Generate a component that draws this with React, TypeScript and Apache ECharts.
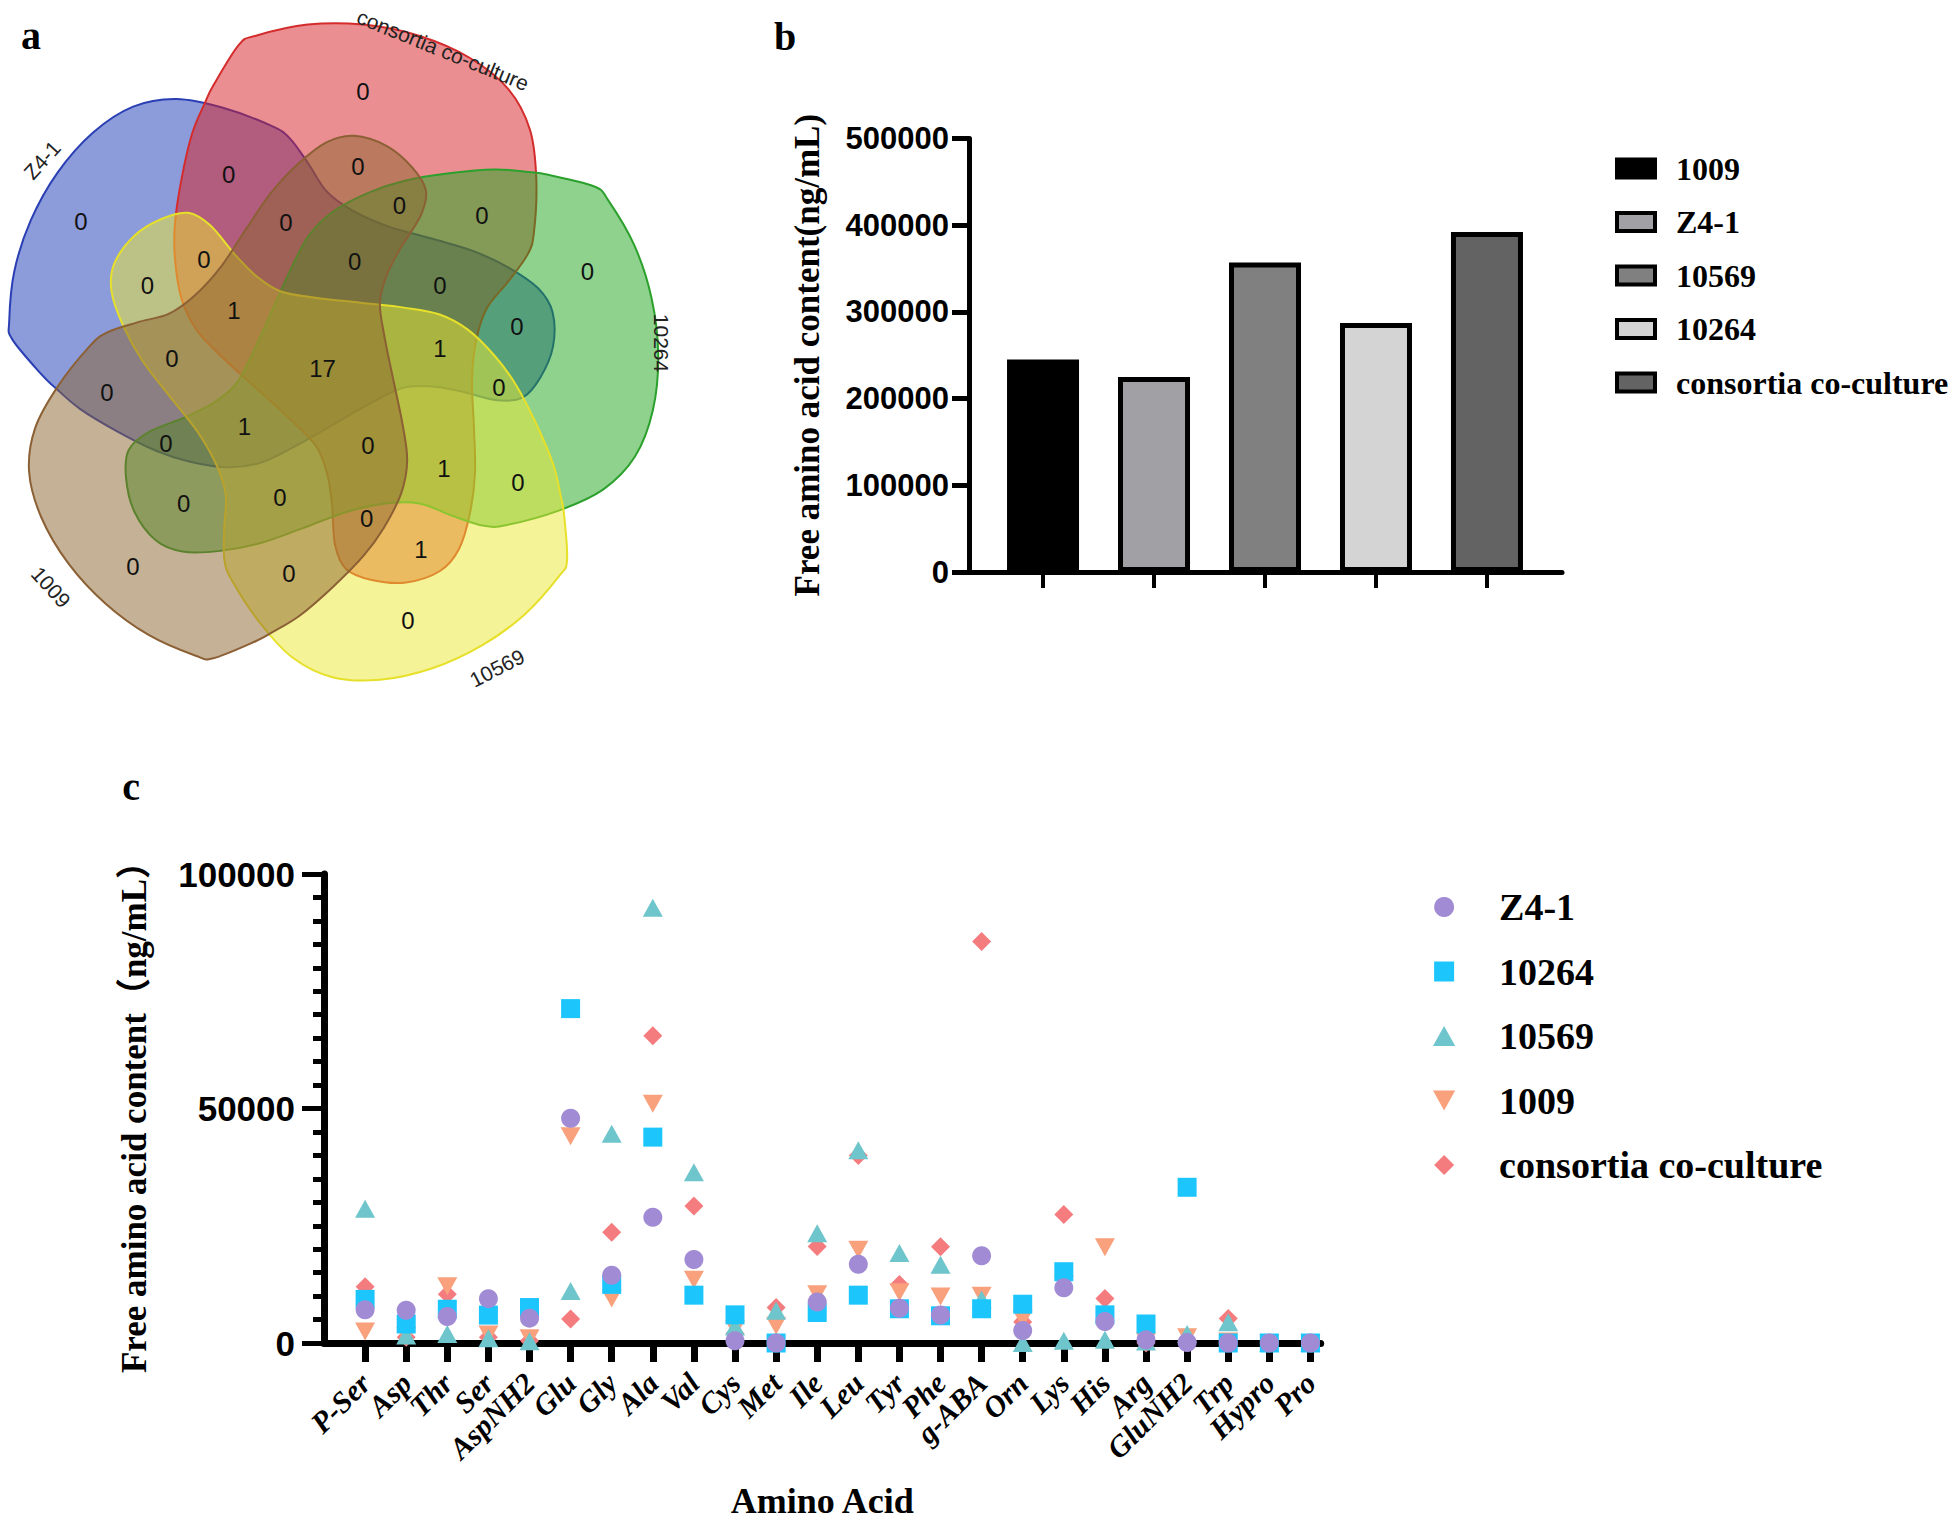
import React, { useEffect, useRef } from 'react';
import * as echarts from 'echarts';

// ---------------- data ----------------
// panel b
const BAR_GROUPS = ['1009', 'Z4-1', '10569', '10264', 'consortia co-culture'];
const BAR_TOTALS = [245000, 225000, 357000, 287000, 392000];

// panel c
const AMINO_ACIDS = ['P-Ser', 'Asp', 'Thr', 'Ser', 'AspNH2', 'Glu', 'Gly', 'Ala', 'Val', 'Cys', 'Met', 'Ile', 'Leu', 'Tyr', 'Phe', 'g-ABA', 'Orn', 'Lys', 'His', 'Arg', 'GluNH2', 'Trp', 'Hypro', 'Pro'];
const SCATTER_GROUPS = ['Z4-1', '10264', '10569', '1009', 'consortia co-culture'];
const VAL_Z41 = [7070, 7000, 5660, 9460, 5300, 47900, 14450, 26800, 17800, 500, 0, 8750, 16800, 7400, 5950, 18600, 2640, 11800, 4600, 670, 100, 0, 0, 0];
const VAL_10264 = [9300, 4050, 7200, 5950, 7560, 71300, 12500, 43900, 10200, 6000, 0, 6500, 10200, 7300, 5800, 7300, 8270, 15200, 6000, 4050, 33200, 0, 0, 0];
const VAL_10569 = [28650, 1600, 1900, 1000, 350, 11100, 44600, 92800, 36400, 3500, 6850, 23400, 41100, 19200, 16700, 9300, 0, 500, 700, 300, 1900, 4400, 0, 0];
const VAL_1009 = [2430, 1500, 12100, 1800, 1000, 44100, 9500, 51000, 13500, 3000, 3700, 10400, 19900, 10800, 9900, 10100, 5100, 12500, 20400, 300, 1200, 300, 0, 0];
const VAL_CONSORTIA = [12000, 1200, 10400, 1200, 500, 5100, 23600, 65500, 29200, 2000, 7560, 20600, 40000, 12500, 20500, 85600, 4500, 27400, 9500, 0, 500, 5200, 0, 0];
const SCATTER_VALUES = [VAL_Z41, VAL_10264, VAL_10569, VAL_1009, VAL_CONSORTIA];

// panel a (Venn)
const VENN_SETS = ['Z4-1', 'consortia co-culture', '10264', '10569', '1009'];
const VENN_COUNTS = [0, 0, 0, 0, 0, 0, 0, 0, 0, 0, 0, 0, 1, 0, 1, 0, 17, 0, 0, 1, 0, 0, 1, 0, 0, 0, 0, 1, 0, 0, 0];

// ---------------- layout / style ----------------
const SERIF = "'Liberation Serif', 'Times New Roman', serif";
const SERIF_CJK = "'Liberation Serif', 'Noto Sans CJK SC', serif";
const SANS = "'Liberation Sans', Arial, sans-serif";

const BAR_FILLS = ['#000000', '#a1a1a5', '#808080', '#d4d4d4', '#636363'];
const SCATTER_COLORS = ['#a18bd4', '#1cc6fd', '#6ec5cb', '#f9a07c', '#f47c7f'];
const SCATTER_SYMBOLS = [
  'circle',
  'path://M0,0H10V10H0Z',
  'path://M10,0L20,18L0,18Z',
  'path://M0,0L20,0L10,18Z',
  'path://M10,0L20,10L10,20L0,10Z',
];
const SCATTER_SIZES: any[] = [19, 19, [20, 18], [20, 18], 19];
const SCATTER_Z = [6, 5, 4, 3, 2];

// Venn
const VENN_CENTER = [319, 360];
const SHAPE_OUTLINE = [
  [213.7, 84.8], [239, 44.6], [256, 35.7], [307.7, 24.6], [363, 24.6], [418.8, 35.7], [470, 58],
  [508.5, 89.3], [529.9, 129.5], [536.3, 178.6], [534, 232], [527.7, 254.4], [508.5, 281.2],
  [487, 308], [476.4, 339.3], [472, 379.4], [474, 428.5], [475, 473], [470, 513], [459, 549],
  [440, 571], [406, 582.5], [371.7, 580], [346, 569], [335, 544.6], [332, 504], [327, 473],
  [316, 446], [290.6, 419.6], [256, 388], [222, 357], [196.6, 330], [181.6, 299], [175, 259],
  [175, 223], [181.6, 178.6], [192, 134], [205, 102.7],
];
// per set: rotation (deg, counter-clockwise), scale, dx, dy
const VENN_XFORM = [
  [72, 0.96, 5, 0],
  [0, 1, 0, 0],
  [-72, 1, 0, 0],
  [-144, 0.96, 8, 0],
  [144, 0.96, 10, 8],
];
const VENN_FILL = ['rgba(25,55,180,0.5)', 'rgba(215,30,35,0.5)', 'rgba(30,165,30,0.5)', 'rgba(235,232,50,0.5)', 'rgba(140,100,45,0.5)'];
const VENN_STROKE = ['#2b3fb5', '#d42c2c', '#2ca02c', '#e6e02a', '#8b6035'];
const VENN_LABEL_POS = [
  [363, 91.5], [228.6, 174], [358, 166], [81, 221], [286, 222], [399.5, 205], [482, 215.6],
  [587.5, 271.4], [203.8, 259], [354.7, 261], [147.4, 285.7], [440, 285.7], [234, 310],
  [517, 326], [440, 348], [172, 358.5], [322.6, 368.3], [106.8, 392], [499, 387.5],
  [244.4, 426], [165.8, 443], [368, 445], [444, 468.7], [518, 482], [183.7, 503.5],
  [280, 497], [366.6, 518], [421, 549], [133, 566], [289, 573.6], [408, 620.5],
];
const VENN_SET_LABEL_POS = [
  [42, 160, 48],
  [443, 50, -22],
  [661, 343, -90],
  [497, 668, 27],
  [51, 587, -48],
];

function smoothClosedPath(pts: number[][]) {
  const n = pts.length;
  const f = (v: number) => v.toFixed(2);
  let d = `M${f(pts[0][0])},${f(pts[0][1])}`;
  for (let i = 0; i < n; i++) {
    const p0 = pts[(i - 1 + n) % n];
    const p1 = pts[i];
    const p2 = pts[(i + 1) % n];
    const p3 = pts[(i + 2) % n];
    const c1 = [p1[0] + (p2[0] - p0[0]) / 6, p1[1] + (p2[1] - p0[1]) / 6];
    const c2 = [p2[0] - (p3[0] - p1[0]) / 6, p2[1] - (p3[1] - p1[1]) / 6];
    d += `C${f(c1[0])},${f(c1[1])},${f(c2[0])},${f(c2[1])},${f(p2[0])},${f(p2[1])}`;
  }
  return d + 'Z';
}

function buildOption() {
  const local = SHAPE_OUTLINE.map(([x, y]) => [x - VENN_CENTER[0], y - VENN_CENTER[1]]);
  echarts.graphic.registerShape('vennBlob', echarts.graphic.extendPath(smoothClosedPath(local), {}) as any);

  const graphics: any[] = [];
  VENN_SETS.forEach((_, i) => {
    const [rot, s, dx, dy] = VENN_XFORM[i];
    graphics.push({
      type: 'vennBlob',
      x: VENN_CENTER[0] + dx,
      y: VENN_CENTER[1] + dy,
      scaleX: s,
      scaleY: s,
      rotation: (rot * Math.PI) / 180,
      z: 1 + i,
      style: { fill: VENN_FILL[i], stroke: VENN_STROKE[i], lineWidth: 2 / s },
    });
  });
  VENN_COUNTS.forEach((c, i) => {
    graphics.push({
      type: 'text',
      x: VENN_LABEL_POS[i][0],
      y: VENN_LABEL_POS[i][1],
      z: 20,
      style: { text: String(c), fill: '#111', font: `24px ${SANS}`, align: 'center', verticalAlign: 'middle' },
    });
  });
  VENN_SETS.forEach((s, i) => {
    const [x, y, r] = VENN_SET_LABEL_POS[i];
    graphics.push({
      type: 'text',
      x,
      y,
      rotation: (r * Math.PI) / 180,
      z: 20,
      style: { text: s, fill: '#222', font: `21px ${SANS}`, align: 'center', verticalAlign: 'middle' },
    });
  });
  [['a', 31, 35], ['b', 785, 36], ['c', 131, 786]].forEach(([t, x, y]) => {
    graphics.push({
      type: 'text',
      x,
      y,
      z: 20,
      style: { text: t, fill: '#000', font: `bold 40px ${SERIF}`, align: 'center', verticalAlign: 'middle' },
    });
  });

  const barSeries = BAR_GROUPS.map((g, i) => ({
    name: 'b|' + g,
    type: 'bar',
    xAxisIndex: 0,
    yAxisIndex: 0,
    barWidth: 72,
    barGap: '-100%',
    data: [[i, BAR_TOTALS[i]]],
    itemStyle: { color: BAR_FILLS[i], borderColor: '#000', borderWidth: 5 },
  }));

  const scatterSeries = SCATTER_GROUPS.map((g, k) => ({
    name: 'c|' + g,
    type: 'scatter',
    xAxisIndex: 1,
    yAxisIndex: 1,
    symbol: SCATTER_SYMBOLS[k],
    symbolSize: SCATTER_SIZES[k],
    z: SCATTER_Z[k],
    itemStyle: { color: SCATTER_COLORS[k], opacity: 1 },
    data: SCATTER_VALUES[k].map((v, i) => [i, v]),
  }));

  const idx = AMINO_ACIDS.map((_, i) => i);
  const X_MIN = -1;
  const X_MAX = 23.25;
  // empty labels at both ends keep every amino-acid label visible
  const labelValues = [X_MIN, ...idx, X_MAX];
  const plain = (v: number) => String(v);

  return {
    animation: false,
    backgroundColor: '#ffffff',
    grid: [
      { left: 969, top: 138.4, width: 593, height: 433.6 },
      { left: 324, top: 874, width: 996.7, height: 473.5 },
    ],
    xAxis: [
      {
        gridIndex: 0,
        type: 'value',
        min: -0.667,
        max: 4.676,
        axisLine: { show: true, onZero: false, lineStyle: { color: '#000', width: 5 } },
        axisTick: { show: true, customValues: BAR_GROUPS.map((_, i) => i), length: 16, lineStyle: { color: '#000', width: 4 } },
        axisLabel: { show: false },
        splitLine: { show: false },
      },
      {
        gridIndex: 1,
        type: 'value',
        min: X_MIN,
        max: X_MAX,
        axisLine: { show: true, onZero: false, lineStyle: { color: '#000', width: 7 } },
        axisTick: { show: true, customValues: idx, length: 19, lineStyle: { color: '#000', width: 7 } },
        axisLabel: {
          customValues: labelValues,
          hideOverlap: false,
          formatter: (v: number) => (Number.isInteger(v) && v >= 0 ? AMINO_ACIDS[v] ?? '' : ''),
          rotate: 45,
          margin: 35,
          fontFamily: SERIF,
          fontWeight: 'bold',
          fontStyle: 'italic',
          fontSize: 30,
          color: '#000',
        },
        splitLine: { show: false },
        name: 'Amino Acid',
        nameLocation: 'middle',
        nameGap: 140,
        nameTextStyle: { fontFamily: SERIF, fontWeight: 'bold', fontSize: 36, color: '#000' },
      },
    ],
    yAxis: [
      {
        gridIndex: 0,
        type: 'value',
        min: 0,
        max: 500000,
        interval: 100000,
        axisLine: { show: true, onZero: false, lineStyle: { color: '#000', width: 5 } },
        axisTick: { show: true, length: 17, lineStyle: { color: '#000', width: 5 } },
        axisLabel: { margin: 20, formatter: plain, fontFamily: SANS, fontWeight: 'bold', fontSize: 31, color: '#000' },
        splitLine: { show: false },
        name: 'Free amino acid content(ng/mL)',
        nameLocation: 'middle',
        nameGap: 144,
        nameTextStyle: { fontFamily: SERIF, fontWeight: 'bold', fontSize: 35, color: '#000' },
      },
      {
        gridIndex: 1,
        type: 'value',
        min: 0,
        max: 100000,
        interval: 50000,
        axisLine: { show: true, onZero: false, lineStyle: { color: '#000', width: 7 } },
        axisTick: { show: true, length: 22, lineStyle: { color: '#000', width: 5 } },
        minorTick: { show: true, splitNumber: 10, length: 11, lineStyle: { color: '#000', width: 5 } },
        minorSplitLine: { show: false },
        axisLabel: { margin: 29, formatter: plain, fontFamily: SANS, fontWeight: 'bold', fontSize: 35, color: '#000' },
        splitLine: { show: false },
        name: 'Free amino acid content（ng/mL）',
        nameLocation: 'middle',
        nameGap: 172,
        nameTextStyle: { fontFamily: SERIF_CJK, fontWeight: 'bold', fontSize: 35, color: '#000' },
      },
    ],
    legend: [
      {
        orient: 'vertical',
        left: 1610,
        top: 147,
        icon: 'rect',
        itemWidth: 38,
        itemHeight: 18,
        itemGap: 20.5,
        selectedMode: false,
        data: BAR_GROUPS.map((g) => 'b|' + g),
        formatter: (n: string) => n.split('|')[1],
        itemStyle: { borderColor: '#000', borderWidth: 4 },
        textStyle: { fontFamily: SERIF, fontWeight: 'bold', fontSize: 32, lineHeight: 33, color: '#000', padding: [0, 0, 0, 16] },
      },
      {
        orient: 'vertical',
        left: 1428,
        top: 883,
        itemWidth: 100,
        itemHeight: 20,
        itemGap: 26.5,
        selectedMode: false,
        data: SCATTER_GROUPS.map((g) => 'c|' + g),
        formatter: (n: string) => n.split('|')[1],
        itemStyle: { borderWidth: 0 },
        textStyle: { fontFamily: SERIF, fontWeight: 'bold', fontSize: 38, lineHeight: 38, color: '#000' },
      },
    ],
    series: [...barSeries, ...scatterSeries],
    graphic: { elements: graphics },
  };
}

export default function App() {
  const ref = useRef<HTMLDivElement>(null);
  useEffect(() => {
    document.body.style.margin = '0';
    const chart = echarts.init(ref.current as HTMLDivElement, null, { renderer: 'svg' });
    chart.setOption(buildOption() as any);
    return () => chart.dispose();
  }, []);
  return <div ref={ref} style={{ width: 1959, height: 1520, background: '#fff' }} />;
}
